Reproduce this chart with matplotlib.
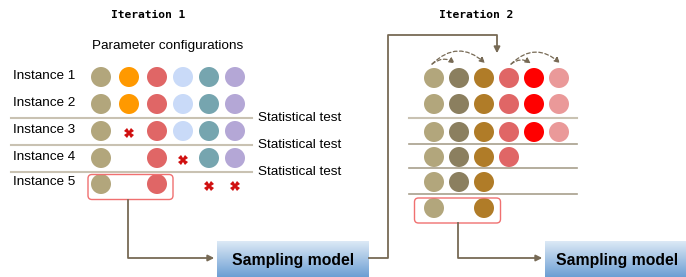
import matplotlib
matplotlib.use("Agg")
import matplotlib.pyplot as plt
import numpy as np
from matplotlib.patches import FancyBboxPatch, FancyArrowPatch, Circle
from matplotlib.colors import LinearSegmentedColormap

# ---- data ----
instances = ["Instance 1", "Instance 2", "Instance 3", "Instance 4", "Instance 5"]
colors_it1 = ["#b2a67c", "#ff9900", "#e06666", "#c9daf8", "#76a5af", "#b4a7d6"]
# 1 = circle, 0 = empty, -1 = eliminated (x)
status_it1 = [
    [1, 1, 1, 1, 1, 1],
    [1, 1, 1, 1, 1, 1],
    [1, -1, 1, 1, 1, 1],
    [1, 0, 1, -1, 1, 1],
    [1, 0, 1, 0, -1, -1],
]
colors_it2 = ["#b2a67c", "#8b7f5f", "#b07c28", "#e06666", "#ff0000", "#ea9999"]
status_it2 = [
    [1, 1, 1, 1, 1, 1],
    [1, 1, 1, 1, 1, 1],
    [1, 1, 1, 1, 1, 1],
    [1, 1, 1, 1, 0, 0],
    [1, 1, 1, 0, 0, 0],
    [1, 0, 1, 0, 0, 0],
]
stat_labels = ["Statistical test", "Statistical test", "Statistical test"]

W, H = 686, 277
fig = plt.figure(figsize=(W / 100, H / 100), dpi=100)
ax = fig.add_axes([0, 0, 1, 1])
ax.set_xlim(0, W)
ax.set_ylim(H, 0)
ax.axis("off")

txt_font = ["Liberation Sans", "DejaVu Sans"]
line_c = "#c9c2b2"
arrow_c = "#776a55"

# ---- Iteration 1 ----
ax.text(148, 15, "Iteration 1", ha="center", va="center", fontsize=8.1,
        fontweight="bold", family="DejaVu Sans Mono")
ax.text(168, 46, "Parameter configurations", ha="center", va="center",
        fontsize=9.7, family=txt_font)
xs1 = [101, 129, 157, 183, 209, 235]
ys1 = [77, 104, 131, 158, 184]
r = 10
for i, (lab, row) in enumerate(zip(instances, status_it1)):
    ax.text(13, ys1[i] - (1 if i < 4 else 2), lab, ha="left", va="center",
            fontsize=9.7, family=txt_font)
    for j, s in enumerate(row):
        if s == 1:
            ax.add_patch(Circle((xs1[j], ys1[i]), r, color=colors_it1[j], lw=0))
        elif s == -1:
            ax.plot(xs1[j], ys1[i] + 2, marker="X", color="#d01010",
                    markersize=6.5, markeredgewidth=0)
sep1 = [118, 145, 172]
for y, lab in zip(sep1, stat_labels):
    ax.plot([11, 252], [y, y], color=line_c, lw=1.5)
    ax.text(258, y, lab, ha="left", va="center", fontsize=9.7, family=txt_font)
ax.add_patch(FancyBboxPatch((88, 174.5), 85, 25, boxstyle="round,pad=0,rounding_size=4",
                            fill=False, ec="#f07070", lw=1))
ax.plot([128, 128, 210], [200, 258, 258], color=arrow_c, lw=1.3)
ax.add_patch(FancyArrowPatch((205, 258), (217, 258), arrowstyle="-|>",
                             mutation_scale=9, color=arrow_c, lw=1.3))

# sampling model boxes
cmap = LinearSegmentedColormap.from_list("g", ["#dce9f6", "#6d9fd3"])
grad = np.linspace(0, 1, 100).reshape(-1, 1)


def sbox(x0, x1):
    ax.imshow(grad, cmap=cmap, extent=(x0, x1, 277, 241), aspect="auto", zorder=1)
    ax.text((x0 + x1) / 2, 260, "Sampling model", ha="center", va="center",
            fontsize=11.3, fontweight="bold", family=txt_font, zorder=2)


sbox(217, 369)
ax.plot([369, 388, 388, 497, 497], [258, 258, 35, 35, 48], color=arrow_c, lw=1.3)
ax.add_patch(FancyArrowPatch((497, 45), (497, 56), arrowstyle="-|>",
                             mutation_scale=9, color=arrow_c, lw=1.3))

# ---- Iteration 2 ----
ax.text(476, 15, "Iteration 2", ha="center", va="center", fontsize=8.1,
        fontweight="bold", family="DejaVu Sans Mono")
xs2 = [434, 459, 484, 509, 534, 559]
ys2 = [78, 104, 132, 157, 182, 208]
for i, row in enumerate(status_it2):
    for j, s in enumerate(row):
        if s == 1:
            ax.add_patch(Circle((xs2[j], ys2[i]), r, color=colors_it2[j], lw=0))
for y in [118, 144, 168, 194]:
    ax.plot([409, 577], [y, y], color=line_c if y == 118 else "#a89f8c", lw=1.2 if y != 118 else 1.5)
ax.add_patch(FancyBboxPatch((414.5, 198), 86, 25, boxstyle="round,pad=0,rounding_size=4",
                            fill=False, ec="#f07070", lw=1))
ax.plot([458, 458, 538], [223, 258, 258], color=arrow_c, lw=1.3)
ax.add_patch(FancyArrowPatch((533, 258), (545, 258), arrowstyle="-|>",
                             mutation_scale=9, color=arrow_c, lw=1.3))
sbox(545, 690)

# dashed arcs
for (x0, x1, rad) in [(430, 457, -0.45), (430, 487, -0.5), (509, 533, -0.45), (509, 562, -0.5)]:
    ax.add_patch(FancyArrowPatch((x0, 66), (x1, 65), connectionstyle=f"arc3,rad={rad}",
                                 arrowstyle="-|>", mutation_scale=8, color=arrow_c,
                                 lw=0.9, linestyle=(0, (3, 2))))

fig.savefig("out.png", dpi=100)
